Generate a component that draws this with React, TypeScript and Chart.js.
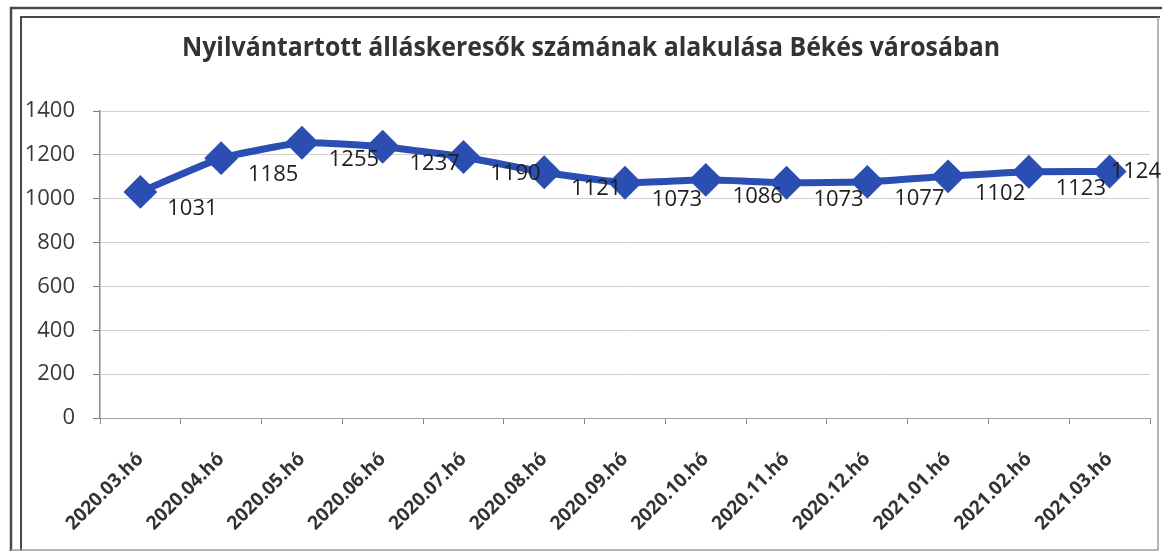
import React, { useEffect, useRef } from "react";
import { Chart, registerables } from "chart.js";

Chart.register(...registerables);

const TITLE = "Nyilvántartott álláskeresők számának alakulása Békés városában";
const categories = [
  "2020.03.hó", "2020.04.hó", "2020.05.hó", "2020.06.hó", "2020.07.hó",
  "2020.08.hó", "2020.09.hó", "2020.10.hó", "2020.11.hó", "2020.12.hó",
  "2021.01.hó", "2021.02.hó", "2021.03.hó",
];
const values = [1031, 1185, 1255, 1237, 1190, 1121, 1073, 1086, 1073, 1077, 1102, 1123, 1124];
const yMin = 0;
const yMax = 1400;
const yStep = 200;

const W = 1162;
const H = 553;
const LINE_BLUE = "#2b4eb2";

const framePlugin = {
  id: "frame",
  beforeDraw(chart: any) {
    const ctx = chart.ctx;
    ctx.save();
    ctx.fillStyle = "#ffffff";
    ctx.fillRect(0, 0, W, H);
    ctx.strokeStyle = "#4a4a4a";
    ctx.lineWidth = 2.5;
    ctx.beginPath();
    ctx.moveTo(11, 551);
    ctx.lineTo(11, 8);
    ctx.lineTo(1162, 8);
    ctx.stroke();
    ctx.lineWidth = 2;
    ctx.beginPath();
    ctx.moveTo(21, 551);
    ctx.lineTo(21, 17);
    ctx.lineTo(1160, 17);
    ctx.stroke();
    ctx.strokeStyle = "#9a9a9a";
    ctx.lineWidth = 1.5;
    ctx.beginPath();
    ctx.moveTo(11, 550);
    ctx.lineTo(1158, 550);
    ctx.lineTo(1158, 17);
    ctx.stroke();
    // title
    ctx.font = "bold 27px 'Open Sans'";
    ctx.fillStyle = "#333333";
    ctx.textAlign = "center";
    ctx.textBaseline = "alphabetic";
    const tw = ctx.measureText(TITLE).width;
    const target = 818;
    const sx = target / tw;
    ctx.translate(591, 56);
    ctx.scale(sx, 1);
    ctx.fillText(TITLE, 0, 0);
    ctx.restore();
  },
};

const valueLabelPlugin = {
  id: "valueLabels",
  afterDatasetsDraw(chart: any) {
    const ctx = chart.ctx;
    const meta = chart.getDatasetMeta(0);
    ctx.save();
    ctx.font = "22px 'Open Sans'";
    ctx.fillStyle = "#1e1e1e";
    ctx.textAlign = "center";
    ctx.textBaseline = "middle";
    meta.data.forEach((pt: any, i: number) => {
      const txt = String(values[i]);
      const w = ctx.measureText(txt).width;
      let x = pt.x + 52;
      let dy = 17;
      if (x + w / 2 > W - 1) {
        x = W - 1 - w / 2;
        dy = 0;
      }
      ctx.fillText(txt, x, pt.y + dy);
    });
    ctx.restore();
  },
};

export default function App() {
  const ref = useRef<HTMLCanvasElement | null>(null);
  useEffect(() => {
    if (!ref.current) return;
    const chart = new Chart(ref.current, {
      type: "line",
      data: {
        labels: categories,
        datasets: [
          {
            data: values,
            borderColor: LINE_BLUE,
            backgroundColor: LINE_BLUE,
            borderWidth: 7,
            pointStyle: "rectRot",
            pointRadius: 12,
            pointBackgroundColor: LINE_BLUE,
            pointBorderColor: LINE_BLUE,
            tension: 0.15,
            fill: false,
            clip: false,
          },
        ],
      },
      options: {
        responsive: false,
        animation: false,
        layout: { autoPadding: false, padding: { top: 111, right: 12, bottom: 0, left: 0 } },
        plugins: {
          legend: { display: false },
          title: { display: false },
          tooltip: { enabled: false },
        },
        scales: {
          x: {
            type: "category",
            offset: true,
            grid: {
              display: true,
              drawOnChartArea: false,
              drawTicks: true,
              tickLength: 6,
              color: "#8a8a8a",
              offset: true,
            },
            border: { color: "#a0a0a0", width: 1 },
            ticks: {
              autoSkip: false,
              minRotation: 45,
              maxRotation: 45,
              padding: 24,
              color: "#333333",
              font: { family: "'Open Sans'", size: 19, weight: "bold" },
            },
            afterFit(scale: any) {
              scale.height = H - 418;
              scale.paddingLeft = 0;
              scale.paddingRight = 0;
            },
          },
          y: {
            min: yMin,
            max: yMax,
            grid: {
              color: "#cfcfcf",
              lineWidth: 1,
              drawTicks: true,
              tickLength: 7,
              tickColor: "#7a7a7a",
            },
            border: { color: "#8a8a8a", width: 1.5 },
            ticks: {
              stepSize: yStep,
              padding: 18,
              color: "#383838",
              font: { family: "'Open Sans'", size: 22 },
              callback: (v: any) => String(v),
            },
            afterFit(scale: any) {
              scale.width = 100;
              scale.paddingTop = 0;
              scale.paddingBottom = 0;
            },
          },
        },
      },
      plugins: [framePlugin, valueLabelPlugin],
    });
    return () => chart.destroy();
  }, []);
  return (
    <div style={{ position: "fixed", left: 0, top: 0, width: W, height: H, background: "#fff" }}>
      <canvas ref={ref} width={W} height={H} style={{ width: W, height: H, display: "block" }} />
    </div>
  );
}
